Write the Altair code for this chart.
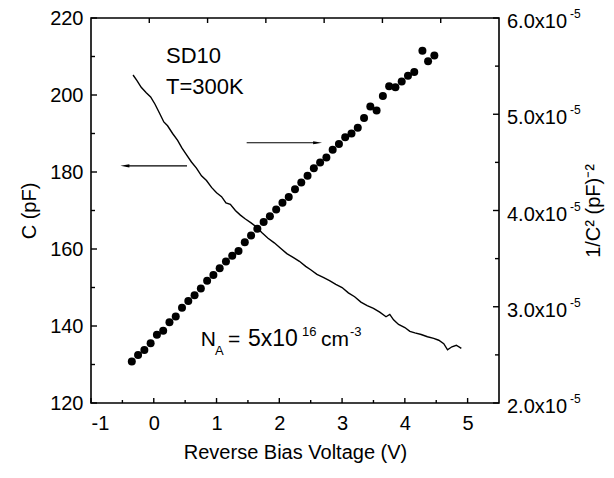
import altair as alt
import pandas as pd

# ---- data ----
v_line = [-0.33, -0.27, -0.2, -0.12, -0.05, 0.02, 0.1, 0.16, 0.22, 0.3, 0.38, 0.45, 0.52, 0.6,
          0.68, 0.76, 0.84, 0.92, 1.0, 1.08, 1.15, 1.22, 1.3, 1.38, 1.46, 1.55, 1.63, 1.72, 1.82,
          1.92, 2.02, 2.12, 2.22, 2.32, 2.42, 2.5, 2.6, 2.7, 2.8, 2.9, 3.0, 3.1, 3.2, 3.3, 3.4,
          3.5, 3.6, 3.7, 3.76, 3.82, 3.9, 4.0, 4.08, 4.16, 4.26, 4.36, 4.46, 4.54, 4.62, 4.68,
          4.75, 4.82, 4.9]
c_line = [205.2, 203.8, 202.0, 200.6, 199.5, 197.6, 195.0, 193.0, 192.0, 190.0, 188.2, 186.2,
          184.5, 182.6, 181.0, 179.0, 177.8, 176.0, 174.6, 173.6, 172.0, 171.6, 170.0, 168.8,
          167.8, 166.8, 165.8, 164.3, 162.8, 161.6, 160.2, 158.8, 157.8, 156.8, 155.5, 154.6,
          153.4, 152.6, 151.8, 150.8, 150.0, 148.6, 147.6, 146.2, 145.3, 144.6, 143.6, 142.4,
          143.0, 141.6, 140.4, 139.6, 138.6, 138.2, 137.8, 137.2, 136.8, 136.3, 135.4, 133.8,
          134.6, 135.0, 134.2]

v_pts = [-0.35, -0.25, -0.15, -0.05, 0.05, 0.15, 0.25, 0.35, 0.45, 0.55, 0.65, 0.75, 0.85,
         0.95, 1.05, 1.15, 1.25, 1.35, 1.45, 1.55, 1.65, 1.75, 1.85, 1.95, 2.05, 2.15, 2.25,
         2.35, 2.45, 2.55, 2.65, 2.75, 2.85, 2.95, 3.05, 3.15, 3.25, 3.35, 3.45, 3.55, 3.65,
         3.75, 3.85, 3.95, 4.05, 4.15, 4.28, 4.37, 4.47]
inv_c2_e5 = [2.43, 2.50, 2.55, 2.62, 2.71, 2.75, 2.84, 2.90, 2.99, 3.06, 3.12, 3.19, 3.27,
             3.33, 3.40, 3.47, 3.53, 3.58, 3.67, 3.74, 3.81, 3.88, 3.94, 4.01, 4.08, 4.14,
             4.22, 4.29, 4.36, 4.44, 4.50, 4.55, 4.63, 4.69, 4.76, 4.80, 4.86, 4.96, 5.08,
             5.04, 5.19, 5.29, 5.28, 5.34, 5.40, 5.44, 5.66, 5.55, 5.61]

x_labels = [-1, 0, 1, 2, 3, 4, 5]
x_minor = [-0.5, 0.5, 1.5, 2.5, 3.5, 4.5]
x_top = [-1 + k * 6.5 / 7 for k in range(1, 7)]
c_labels = [120, 140, 160, 180, 200, 220]
c_minor = [130, 150, 170, 190, 210]
r_major_e5 = [2.0, 3.0, 4.0, 5.0, 6.0]
r_minor_e5 = [2.5, 3.5, 4.5, 5.5]

ann_text = ["SD10", "T=300K", "N", "A", "=", "5x10", "16", "cm", "-3"]
ann_v = [0.195, 0.195, 0.748, 0.975, 1.183, 1.50, 2.36, 2.664, 3.126]
ann_c = [208.2, 200.2, 134.9, 132.4, 134.9, 134.9, 137.3, 134.9, 137.3]
ann_fs = [22, 22, 21, 13, 21, 23, 13, 21, 13]

W, H = 408, 385
FONT = "Liberation Sans"

xscale = alt.Scale(domain=[-1, 5.5], nice=False, zero=False)
lscale = alt.Scale(domain=[120, 220], nice=False, zero=False)
rscale = alt.Scale(domain=[2e-5, 6e-5], nice=False, zero=False)

X_TITLE = "Reverse Bias Voltage (V)"
L_TITLE = "C (pF)"
R_TITLE = "1/C\u00b2 (pF)\u207b\u00b2"

common_axis = dict(domain=False, ticks=False, grid=False,
                   labelFont=FONT, labelFontSize=20, labelColor="black",
                   titleFont=FONT, titleFontSize=20, titleFontWeight="normal",
                   titleColor="black")

xaxis = alt.Axis(values=x_labels, title=X_TITLE, labelPadding=10, titleY=49,
                 titleBaseline="middle", labelExpr="'' + datum.value", **common_axis)
laxis = alt.Axis(values=c_labels, title=L_TITLE, labelPadding=8, titleX=-62,
                 titleY=H / 2, titleAngle=270, titleBaseline="middle", titleAlign="center",
                 **common_axis)
raxis = alt.Axis(orient="right", labels=False, title=R_TITLE, titleX=94, titleY=H / 2,
                 titleAngle=270, titleBaseline="middle", titleAlign="center", **common_axis)

line_df = pd.DataFrame({"V": v_line, "C": c_line})
pts_df = pd.DataFrame({"V": v_pts, "R": [v * 1e-5 for v in inv_c2_e5]})

line = alt.Chart(line_df).mark_line(color="black", strokeWidth=1.4).encode(
    x=alt.X("V:Q", scale=xscale, axis=xaxis),
    y=alt.Y("C:Q", scale=lscale, axis=laxis),
)

# inward ticks
def xrule(vals, y0, y1):
    return alt.Chart(pd.DataFrame({"V": vals})).mark_rule(color="black", strokeWidth=1.4).encode(
        x=alt.X("V:Q", scale=xscale, title=X_TITLE), y=alt.value(y0), y2=alt.value(y1))

def lrule(vals, ln):
    return alt.Chart(pd.DataFrame({"C": vals})).mark_rule(color="black", strokeWidth=1.4).encode(
        y=alt.Y("C:Q", scale=lscale, title=L_TITLE), x=alt.value(0), x2=alt.value(ln))

bx_major = xrule(x_labels, H, H - 5)
bx_minor = xrule(x_minor, H, H - 3)
tx_ticks = xrule(x_top, 0, 5)
ly_major = lrule(c_labels, 6)
ly_minor = lrule(c_minor, 4)

ann_df = pd.DataFrame({"t": ann_text, "V": ann_v, "C": ann_c, "fs": ann_fs})
ann = alt.Chart(ann_df).mark_text(align="left", baseline="alphabetic", font=FONT, color="black").encode(
    x=alt.X("V:Q", scale=xscale, title=X_TITLE),
    y=alt.Y("C:Q", scale=lscale, title=L_TITLE),
    text="t:N",
    size=alt.Size("fs:Q", scale=None, legend=None),
)

arrows_df = pd.DataFrame({"V": [0.53, 1.48], "V2": [-0.44, 2.59], "C": [181.6, 187.6]})
arrow_lines = alt.Chart(arrows_df).mark_rule(color="black", strokeWidth=1.2).encode(
    x=alt.X("V:Q", scale=xscale, title=X_TITLE), x2="V2:Q",
    y=alt.Y("C:Q", scale=lscale, title=L_TITLE))
head_l = alt.Chart(pd.DataFrame({"V": [-0.46], "C": [181.6]})).mark_point(
    shape="M-1,0L1,-0.35L1,0.35Z", filled=True, color="black", size=80, opacity=1).encode(
    x=alt.X("V:Q", scale=xscale, title=X_TITLE), y=alt.Y("C:Q", scale=lscale, title=L_TITLE))
head_r = alt.Chart(pd.DataFrame({"V": [2.61], "C": [187.6]})).mark_point(
    shape="M1,0L-1,-0.35L-1,0.35Z", filled=True, color="black", size=80, opacity=1).encode(
    x=alt.X("V:Q", scale=xscale, title=X_TITLE), y=alt.Y("C:Q", scale=lscale, title=L_TITLE))

left = alt.layer(line, bx_major, bx_minor, tx_ticks, ly_major, ly_minor, ann,
                 arrow_lines, head_l, head_r)

# right axis group
dots = alt.Chart(pts_df).mark_circle(color="black", size=64, opacity=1).encode(
    x=alt.X("V:Q", scale=xscale, title=X_TITLE),
    y=alt.Y("R:Q", scale=rscale, axis=raxis),
)

def rrule(vals, ln):
    return alt.Chart(pd.DataFrame({"R": [v * 1e-5 for v in vals]})).mark_rule(
        color="black", strokeWidth=1.4).encode(
        y=alt.Y("R:Q", scale=rscale, title=R_TITLE), x=alt.value(W), x2=alt.value(W - ln))

ry_major = rrule(r_major_e5, 6)
ry_minor = rrule(r_minor_e5, 4)
rlab_df = pd.DataFrame({"R": [v * 1e-5 for v in r_major_e5],
                        "t": [f"{v:.1f}x10" for v in r_major_e5]})
rlab = alt.Chart(rlab_df).mark_text(align="left", baseline="alphabetic", font=FONT, fontSize=20,
                                    color="black", dy=10).encode(
    y=alt.Y("R:Q", scale=rscale, title=R_TITLE), x=alt.value(W + 8), text="t:N")
rexp = alt.Chart(rlab_df).mark_text(align="left", baseline="alphabetic", font=FONT, fontSize=12,
                                    color="black", dy=0).encode(
    y=alt.Y("R:Q", scale=rscale, title=R_TITLE), x=alt.value(W + 71), text=alt.value("-5"))

right = alt.layer(dots, ry_major, ry_minor, rlab, rexp)

chart = alt.layer(left, right).resolve_scale(y="independent").properties(
    width=W, height=H,
    padding={"left": 83, "top": 10, "right": 107, "bottom": 67},
    autosize=alt.AutoSizeParams(type="none"),
    background="white",
).configure_view(stroke="black", strokeWidth=1.6)

chart.save("out.html", embed_options={"renderer": "svg", "actions": False})
